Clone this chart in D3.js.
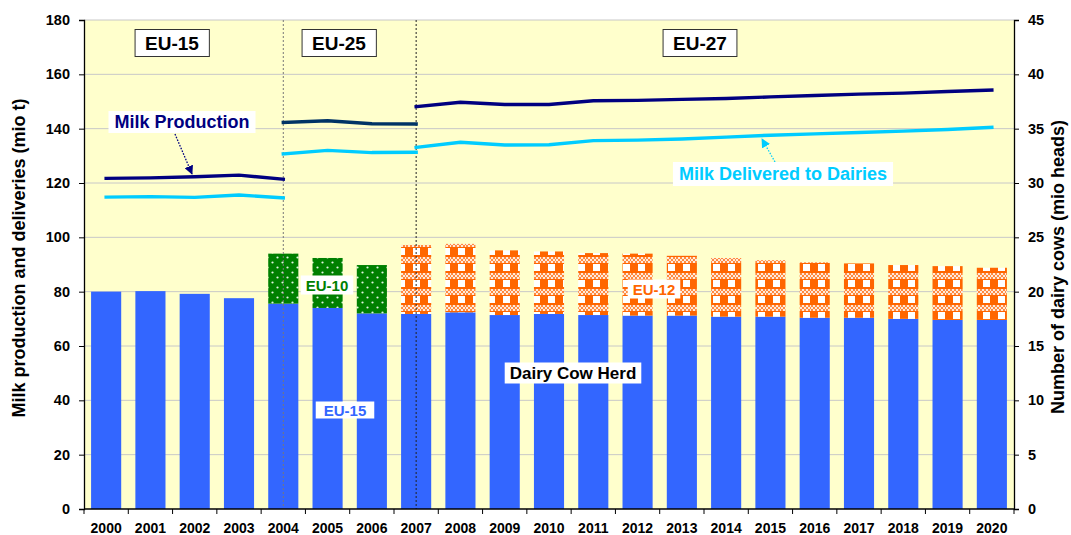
<!doctype html>
<html>
  <head>
    <title>EU dairy herd and milk</title>
    <style>
      html, body { margin: 0; padding: 0; background: #fff; }
      svg { font-family: Arial, "Liberation Sans", sans-serif; font-weight: bold; }
    </style>
  </head>
  <body>
    <svg id="chart" width="1071" height="535"></svg>
    <script src="https://d3js.org/d3.v7.min.js"></script>
    <script>
      // data (cows in mio heads, milk in mio t)
      var years = ["2000","2001","2002","2003","2004","2005","2006","2007","2008","2009","2010",
                   "2011","2012","2013","2014","2015","2016","2017","2018","2019","2020"];
      var eu15Cows = [20.0,20.05,19.8,19.4,18.9,18.5,18.0,17.95,18.1,17.85,17.95,
                      17.85,17.8,17.8,17.7,17.7,17.6,17.6,17.5,17.4,17.4];
      var eu10Cows = [null,null,null,null,4.6,4.6,4.45,null,null,null,null,
                      null,null,null,null,null,null,null,null,null,null];
      var eu12Cows = [null,null,null,null,null,null,null,6.35,6.3,5.95,5.75,
                      5.7,5.7,5.5,5.4,5.2,5.1,5.0,4.95,4.95,4.8];
      var prodEU15 = [121.7,121.9,122.3,122.9,121.4,null,null,null,null,null,null,
                      null,null,null,null,null,null,null,null,null,null];
      var prodEU25 = [null,null,null,null,142.3,142.9,141.8,141.7,null,null,null,
                      null,null,null,null,null,null,null,null,null,null];
      var prodEU27 = [null,null,null,null,null,null,null,148.1,149.7,148.9,148.9,
                      150.3,150.4,150.8,151.1,151.7,152.2,152.7,153.1,153.7,154.2];
      var delivEU15 = [114.8,115.0,114.7,115.6,114.5,null,null,null,null,null,null,
                       null,null,null,null,null,null,null,null,null,null];
      var delivEU25 = [null,null,null,null,130.7,132.0,131.2,131.3,null,null,null,
                       null,null,null,null,null,null,null,null,null,null];
      var delivEU27 = [null,null,null,null,null,null,null,133.1,135.0,134.0,134.1,
                       135.6,135.8,136.2,136.9,137.6,138.1,138.6,139.1,139.7,140.5];
      var leftTicks = [0,20,40,60,80,100,120,140,160,180];
      var rightTicks = [0,5,10,15,20,25,30,35,40,45];
      var splitYears = ["2004","2007"];

      var svg = d3.select("#chart");
      var pLeft = 84, pRight = 1014, pTop = 20, pBottom = 509;

      var x = d3.scaleBand().domain(years).range([pLeft, pRight]).paddingInner(0.32).paddingOuter(0.16);
      var yL = d3.scaleLinear().domain([0, 180]).range([pBottom, pTop]);
      var yR = d3.scaleLinear().domain([0, 45]).range([pBottom, pTop]);

      // patterns
      var defs = svg.append("defs");
      var p10 = defs.append("pattern").attr("id", "eu10").attr("patternUnits", "userSpaceOnUse")
        .attr("width", 10).attr("height", 10);
      p10.append("rect").attr("width", 10).attr("height", 10).attr("fill", "#008000");
      p10.append("circle").attr("cx", 2.5).attr("cy", 2.5).attr("r", 1.1).attr("fill", "#e0f4e0");
      p10.append("circle").attr("cx", 7.5).attr("cy", 7.5).attr("r", 1.1).attr("fill", "#e0f4e0");

      // EU-12 checked fabric: orange ground, white squares, light check bands
      var p12 = defs.append("pattern").attr("id", "eu12").attr("patternUnits", "userSpaceOnUse")
        .attr("width", 15).attr("height", 16).attr("x", 1);
      p12.append("rect").attr("width", 15).attr("height", 16).attr("fill", "#ff6600");
      p12.append("rect").attr("x", 7).attr("y", 8).attr("width", 7).attr("height", 7).attr("fill", "#ffffff");
      for (var i = 0; i < 8; i++) {
        for (var j = 0; j < 3; j++) {
          p12.append("rect").attr("x", i * 2).attr("y", 1 + j * 2).attr("width", 2).attr("height", 2)
            .attr("fill", (i + j) % 2 == 0 ? "#ff8a40" : "#ffeadb");
        }
      }

      // plot background
      svg.append("rect").attr("x", pLeft).attr("y", pTop).attr("width", pRight - pLeft)
        .attr("height", pBottom - pTop).attr("fill", "#ffffcc");

      // gridlines
      svg.append("g").selectAll("line").data(leftTicks.slice(1)).join("line")
        .attr("x1", pLeft).attr("x2", pRight)
        .attr("y1", function(d) { return yL(d); }).attr("y2", function(d) { return yL(d); })
        .attr("stroke", "#c8c8c8").attr("stroke-width", 1);

      // bars
      var barData = years.map(function(yr, i) {
        return { year: yr, eu15: eu15Cows[i], eu10: eu10Cows[i], eu12: eu12Cows[i] };
      });
      svg.append("g").selectAll("rect").data(barData).join("rect")
        .attr("x", function(d) { return x(d.year); })
        .attr("width", x.bandwidth())
        .attr("y", function(d) { return yR(d.eu15); })
        .attr("height", function(d) { return yR(0) - yR(d.eu15); })
        .attr("fill", "#3366ff");
      svg.append("g").selectAll("rect").data(barData.filter(function(d) { return d.eu10 != null; })).join("rect")
        .attr("x", function(d) { return x(d.year); })
        .attr("width", x.bandwidth())
        .attr("y", function(d) { return yR(d.eu15 + d.eu10); })
        .attr("height", function(d) { return yR(d.eu15) - yR(d.eu15 + d.eu10); })
        .attr("fill", "url(#eu10)");
      svg.append("g").selectAll("rect").data(barData.filter(function(d) { return d.eu12 != null; })).join("rect")
        .attr("x", function(d) { return x(d.year); })
        .attr("width", x.bandwidth())
        .attr("y", function(d) { return yR(d.eu15 + d.eu12); })
        .attr("height", function(d) { return yR(d.eu15) - yR(d.eu15 + d.eu12); })
        .attr("fill", "url(#eu12)");

      // enlargement dividers
      svg.append("g").selectAll("line").data(splitYears).join("line")
        .attr("x1", function(d) { return x(d) + x.bandwidth() / 2; })
        .attr("x2", function(d) { return x(d) + x.bandwidth() / 2; })
        .attr("y1", pTop).attr("y2", pBottom)
        .attr("stroke", function(d, i) { return i == 0 ? "#777" : "#222"; })
        .attr("stroke-width", 1).attr("stroke-dasharray", "2,2");

      // lines
      var line = d3.line()
        .defined(function(d) { return d.v != null; })
        .x(function(d) { return x(d.year) + x.bandwidth() / 2; })
        .y(function(d) { return yL(d.v); });
      function series(arr) {
        return years.map(function(yr, i) { return { year: yr, v: arr[i] }; });
      }
      var lineSets = [
        { data: delivEU15, color: "#00ccff" },
        { data: delivEU25, color: "#00ccff" },
        { data: delivEU27, color: "#00ccff" },
        { data: prodEU15, color: "#000080" },
        { data: prodEU25, color: "#003366" },
        { data: prodEU27, color: "#000080" }
      ];
      svg.append("g").selectAll("path").data(lineSets).join("path")
        .attr("d", function(d) { return line(series(d.data)); })
        .attr("fill", "none")
        .attr("stroke", function(d) { return d.color; })
        .attr("stroke-width", 3.4)
        .attr("stroke-linecap", "square");

      // axes
      var axL = svg.append("g").attr("transform", "translate(" + pLeft + ",0)")
        .call(d3.axisLeft(yL).tickValues(leftTicks).tickSize(5).tickPadding(9));
      var axR = svg.append("g").attr("transform", "translate(" + pRight + ",0)")
        .call(d3.axisRight(yR).tickValues(rightTicks).tickSize(5).tickPadding(9));
      var axB = svg.append("g").attr("transform", "translate(0," + pBottom + ")")
        .call(d3.axisBottom(x).tickSize(0).tickPadding(14));
      [axL, axR, axB].forEach(function(a) {
        a.select(".domain").attr("stroke", "#000").attr("stroke-width", 1.3);
        a.selectAll(".tick line").attr("stroke", "#000");
        a.selectAll("text").attr("font-size", 14.5).attr("font-weight", "bold")
          .attr("font-family", "Arial, 'Liberation Sans', sans-serif").attr("fill", "#000");
      });
      axB.select(".domain").attr("d", "M" + pLeft + ",0H" + pRight);
      axB.selectAll("text").attr("font-size", 14);
      // category boundary ticks on x axis
      var bounds = years.map(function(yr) { return x(yr) - x.step() * x.paddingInner() / 2; });
      bounds.push(pRight);
      axB.selectAll(".bt").data(bounds).join("line").attr("class", "bt")
        .attr("x1", function(d) { return d; }).attr("x2", function(d) { return d; })
        .attr("y1", 0).attr("y2", 5).attr("stroke", "#000");

      // axis titles
      svg.append("text").attr("transform", "translate(25,258) rotate(-90)")
        .attr("text-anchor", "middle").attr("font-size", 18).text("Milk production and deliveries (mio t)");
      svg.append("text").attr("transform", "translate(1064,267) rotate(-90)")
        .attr("text-anchor", "middle").attr("font-size", 18).text("Number of dairy cows (mio heads)");

      // labels in white boxes
      function boxLabel(cx, cy, txt, color, size, border, padX, padY) {
        var g = svg.append("g");
        var t = g.append("text").attr("x", cx).attr("y", cy).attr("text-anchor", "middle")
          .attr("dominant-baseline", "central").attr("font-size", size).attr("fill", color).text(txt);
        var bb = t.node().getBBox();
        g.insert("rect", "text").attr("x", bb.x - padX).attr("y", bb.y - padY)
          .attr("width", bb.width + 2 * padX).attr("height", bb.height + 2 * padY)
          .attr("fill", "#fff").attr("stroke", border ? "#333" : "none").attr("stroke-width", 1);
      }

      // arrows
      defs.append("marker").attr("id", "arrNavy").attr("viewBox", "0 0 10 10").attr("refX", 9).attr("refY", 5)
        .attr("markerWidth", 7).attr("markerHeight", 7).attr("orient", "auto")
        .append("path").attr("d", "M0,0L10,5L0,10z").attr("fill", "#000080");
      defs.append("marker").attr("id", "arrCyan").attr("viewBox", "0 0 10 10").attr("refX", 9).attr("refY", 5)
        .attr("markerWidth", 7).attr("markerHeight", 7).attr("orient", "auto")
        .append("path").attr("d", "M0,0L10,5L0,10z").attr("fill", "#00ccff");
      svg.append("line").attr("x1", 175).attr("y1", 134).attr("x2", 192).attr("y2", 174)
        .attr("stroke", "#000080").attr("stroke-width", 1.3).attr("stroke-dasharray", "1.5,1.5")
        .attr("marker-end", "url(#arrNavy)");
      svg.append("line").attr("x1", 775).attr("y1", 162).attr("x2", 762).attr("y2", 139)
        .attr("stroke", "#00ccff").attr("stroke-width", 1.3).attr("stroke-dasharray", "1.5,1.5")
        .attr("marker-end", "url(#arrCyan)");

      boxLabel(172, 43, "EU-15", "#000", 19, true, 10, 3);
      boxLabel(339, 43, "EU-25", "#000", 19, true, 10, 3);
      boxLabel(700, 43, "EU-27", "#000", 19, true, 10, 3);
      boxLabel(182, 122, "Milk Production", "#000080", 18, false, 6, 1);
      boxLabel(783, 174, "Milk Delivered to Dairies", "#00ccff", 18, false, 6, 2);
      boxLabel(327, 285, "EU-10", "#008000", 15, false, 5, 1);
      boxLabel(654, 289, "EU-12", "#ff6600", 15, false, 5, 1);
      boxLabel(573, 373, "Dairy Cow Herd", "#000", 17, false, 5, 1);
      boxLabel(345, 410, "EU-15", "#3366ff", 15, false, 8, 0);
    </script>
  </body>
</html>
